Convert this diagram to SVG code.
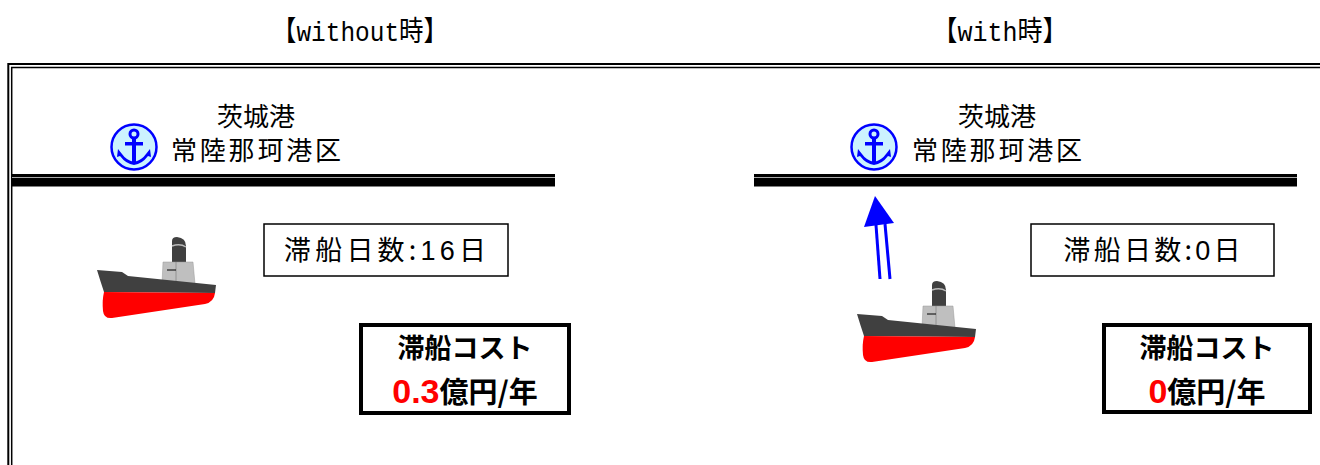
<svg xmlns="http://www.w3.org/2000/svg" xmlns:xlink="http://www.w3.org/1999/xlink" width="1320" height="465" viewBox="0 0 1320 465">
  <style>
    .title { font-family: "Liberation Mono", "Noto Sans CJK JP", monospace; font-size: 28px; fill: #000; text-anchor: middle; }
    .port { font-family: "Noto Sans CJK JP", sans-serif; font-size: 26px; fill: #000; text-anchor: middle; }
    .days { font-family: "Noto Sans CJK JP", sans-serif; font-size: 27px; fill: #000; text-anchor: middle; }
    .digits { font-family: "Liberation Sans", sans-serif; }
    .cost { font-family: "Noto Sans CJK JP", sans-serif; font-size: 27px; font-weight: bold; fill: #000; text-anchor: middle; }
    .cost2 { font-size: 29px; }
    .num { font-family: "Liberation Sans", "Noto Sans CJK JP", sans-serif; font-weight: bold; fill: #ff0000; font-size: 34px; }
    .thinbox { fill: #fff; stroke: #000; stroke-width: 1.5; }
    .thickbox { fill: #fff; stroke: #000; stroke-width: 4; }
    .quay { fill: #000; }
    .quayline { stroke: #aaa; stroke-width: 1; }
    .frame { fill: none; stroke: #000; }
  </style>
  <defs>
    <!-- anchor badge centred on 0,0 -->
    <g id="anchor">
      <circle cx="0" cy="0" r="22.5" fill="#ccf2ff" stroke="#0000ff" stroke-width="2.5"/>
      <circle cx="0" cy="-13" r="4" fill="none" stroke="#0000ff" stroke-width="3"/>
      <rect x="-2" y="-9" width="4" height="24" fill="#0000ff"/>
      <rect x="-9" y="-5" width="18" height="3.5" fill="#0000ff"/>
      <path d="M-16,2 L-12,7 Q-8,13 0,15 Q8,13 12,7 L16,2 L17,10 L14,9 Q8,17 0,18 Q-8,17 -14,9 L-17,10 Z" fill="#0000ff"/>
    </g>
    <!-- cargo ship, drawn at its left-hand position -->
    <g id="ship">
      <path d="M172,241 Q172,237 177,237 Q186,238 186,246 L186,263 L172,263 Z" fill="#404040"/>
      <path d="M172,246 Q180,243 186,247" fill="none" stroke="#bbb" stroke-width="1.5"/>
      <polygon points="163,262 193,262 195,284 162,284" fill="#bfbfbf" stroke="#999" stroke-width="0.5"/>
      <line x1="176" y1="262" x2="176" y2="284" stroke="#888" stroke-width="0.8"/>
      <line x1="167" y1="270" x2="176" y2="270" stroke="#000" stroke-width="1"/>
      <path d="M97,270 L122,272 L128,276 L216,285 L215,293 L104,292 Q100,280 97,270 Z" fill="#404040"/>
      <path d="M104,292 L215,293 Q214,302 205,304 L112,318 Q104,319 103,311 Q102,300 104,292 Z" fill="#ff0000"/>
    </g>
  </defs>

  <!-- outer double frame (left and top edges only) -->
  <g id="frame">
    <path class="frame" stroke-width="2" d="M8.3,465 V64 H1320"/>
    <path class="frame" stroke-width="1.5" d="M11.7,465 V67.5 H1320"/>
  </g>

  <!-- case without the measure -->
  <g id="title-without">
    <text class="title" x="360" y="41" textLength="176" lengthAdjust="spacingAndGlyphs">【without時】</text>
  </g>
  <g id="port-without">
    <rect class="quay" x="12" y="174" width="543" height="12.5"/>
    <line class="quayline" x1="12" y1="177.5" x2="555" y2="177.5"/>
    <use xlink:href="#anchor" href="#anchor" transform="translate(134,147)"/>
    <text class="port" x="256" y="126">茨城港</text>
    <text class="port" x="256" y="160" textLength="170">常陸那珂港区</text>
  </g>
  <g id="ship-without">
    <use xlink:href="#ship" href="#ship"/>
  </g>
  <g id="days-without">
    <rect class="thinbox" x="264" y="224" width="244" height="52"/>
    <text class="days" x="385" y="260" textLength="202">滞船日数:<tspan class="digits">16</tspan>日</text>
  </g>
  <g id="cost-without">
    <rect class="thickbox" x="361" y="325" width="208" height="88"/>
    <text class="cost" x="465" y="358">滞船コスト</text>
    <text class="cost cost2" x="465" y="403"><tspan class="num">0.3</tspan>億円/年</text>
  </g>

  <!-- case with the measure -->
  <g id="title-with">
    <text class="title" x="1000" y="41" textLength="135" lengthAdjust="spacingAndGlyphs">【with時】</text>
  </g>
  <g id="port-with">
    <rect class="quay" x="754" y="174" width="543" height="12.5"/>
    <line class="quayline" x1="754" y1="177.5" x2="1297" y2="177.5"/>
    <use xlink:href="#anchor" href="#anchor" transform="translate(874,147)"/>
    <text class="port" x="997" y="126">茨城港</text>
    <text class="port" x="997" y="160" textLength="170">常陸那珂港区</text>
  </g>
  <g id="ship-with">
    <use xlink:href="#ship" href="#ship" transform="translate(760,44)"/>
  </g>
  <g id="days-with">
    <rect class="thinbox" x="1031" y="224" width="243" height="52"/>
    <text class="days" x="1152" y="260" textLength="177">滞船日数:<tspan class="digits">0</tspan>日</text>
  </g>
  <g id="cost-with">
    <rect class="thickbox" x="1104" y="325" width="206" height="87"/>
    <text class="cost" x="1207" y="358">滞船コスト</text>
    <text class="cost cost2" x="1207" y="403"><tspan class="num">0</tspan>億円/年</text>
  </g>

  <!-- berthing arrow: ship moves straight to the quay -->
  <g id="connectors">
    <line x1="880" y1="279" x2="876" y2="225" stroke="#0000ff" stroke-width="3"/>
    <line x1="890" y1="279" x2="885" y2="224" stroke="#0000ff" stroke-width="3"/>
    <polygon points="875,196 864,227 894,223" fill="#0000ff"/>
  </g>
</svg>
